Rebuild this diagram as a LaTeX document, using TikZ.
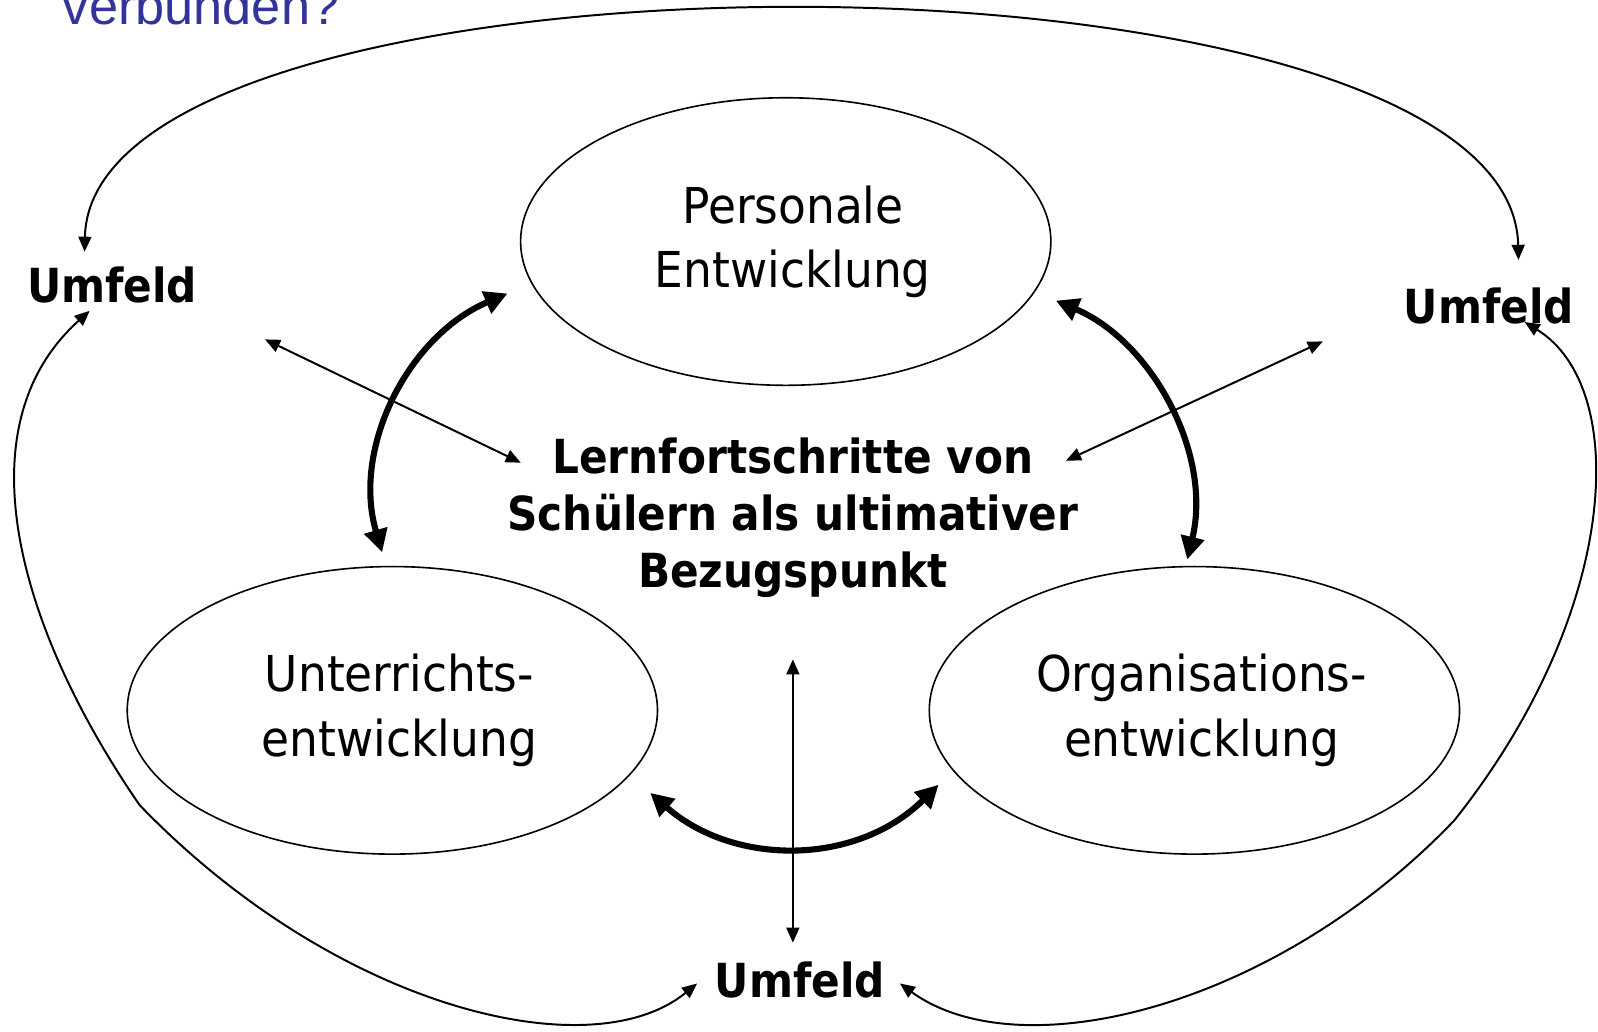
\documentclass[tikz,border=0pt]{standalone}
\usepackage{fontspec}
\setmainfont{Liberation Sans}
\newfontfamily\ellfont[FakeStretch=0.92]{DejaVu Sans}
\newfontfamily\zielfont[FakeStretch=0.90]{DejaVu Sans}
\usepackage{tikz}
\usetikzlibrary{arrows.meta,shapes.geometric}
\usepackage{xcolor}
\definecolor{titelblau}{RGB}{51,51,153}

\begin{document}
\begin{tikzpicture}[x=0.01cm,y=-0.01cm,>={Triangle[length=4.2pt,width=3.6pt]},
feld/.style={ellipse,draw,line width=0.45pt,minimum width=5.2cm,minimum height=2.82cm,inner sep=0pt},
feldtext/.style={align=center,inner sep=0pt,font=\ellfont\fontsize{13.8pt}{17.9pt}\selectfont},
fett/.style={align=center,inner sep=0pt,font=\zielfont\bfseries\fontsize{13.1pt}{15.9pt}\selectfont},
duenn/.style={<->,line width=0.55pt},
dick/.style={{Triangle[length=6.4pt,width=6.4pt]}-{Triangle[length=6.4pt,width=6.4pt]},line width=1.7pt}]
\useasboundingbox (0,0) rectangle (1568,1012);
%%%TITEL (angeschnitten)
\node[anchor=base west,inner sep=0pt,text=titelblau,font=\fontsize{14.6pt}{17pt}\selectfont] (frage) at (61,24) {verbunden?};
%%%ELLIPSEN
\node[feld] (pers) at (771,237) {};
\node[feld] (unt) at (385,697) {};
\node[feld] (org) at (1172,697) {};
\node[feldtext] (persT) at (778,237) {Personale\\Entwicklung};
\node[feldtext] (untT) at (392,697) {Unterrichts-\\entwicklung};
\node[feldtext] (orgT) at (1179,697) {Organisations-\\entwicklung};
%%%MITTE UND UMFELD
\node[fett] (ziel) at (778,508) {Lernfortschritte von\\Schülern als ultimativer\\Bezugspunkt};
\node[fett] (umL) at (110,280) {Umfeld};
\node[fett] (umR) at (1461,300) {Umfeld};
\node[fett] (umM) at (785,962) {Umfeld};
%%%ENDPUNKTE
\coordinate (umLoben) at (83,247);
\coordinate (umRoben) at (1490,255);
\coordinate (umLunten) at (88,305);
\coordinate (umRunten) at (1496,316);
\coordinate (knickL) at (137,790);
\coordinate (knickR) at (1427,805);
\coordinate (umMlinks) at (684,965);
\coordinate (umMrechts) at (883,965);
\coordinate (zielL) at (511,454);
\coordinate (zielR) at (1046,452);
\coordinate (zielU) at (778,647);
\coordinate (aussenL) at (260,333);
\coordinate (aussenR) at (1298,335);
\coordinate (aussenU) at (778,925);
\coordinate (persL) at (498,288);
\coordinate (persR) at (1036,295);
\coordinate (untO) at (375,542);
\coordinate (orgO) at (1165,549);
\coordinate (untR) at (638,778);
\coordinate (orgL) at (921,770);
%%%DUENNE PFEILE
\draw[duenn] (umLoben) .. controls (90,-70) and (1483,-70) .. (umRoben);
\draw[duenn] (umLunten) .. controls (-40,420) and (20,620) .. (knickL) .. controls (330,990) and (580,1050) .. (umMlinks);
\draw[duenn] (umRunten) .. controls (1600,380) and (1590,600) .. (knickR) .. controls (1250,990) and (1000,1050) .. (umMrechts);
\draw[duenn] (aussenL) -- (zielL);
\draw[duenn] (aussenR) -- (zielR);
\draw[duenn] (zielU) -- (aussenU);
%%%DICKE PFEILE
\draw[dick] (persL) .. controls (400,330) and (345,440) .. (untO);
\draw[dick] (persR) .. controls (1130,335) and (1190,445) .. (orgO);
\draw[dick] (untR) .. controls (720,850) and (840,850) .. (orgL);
\end{tikzpicture}
\end{document}
